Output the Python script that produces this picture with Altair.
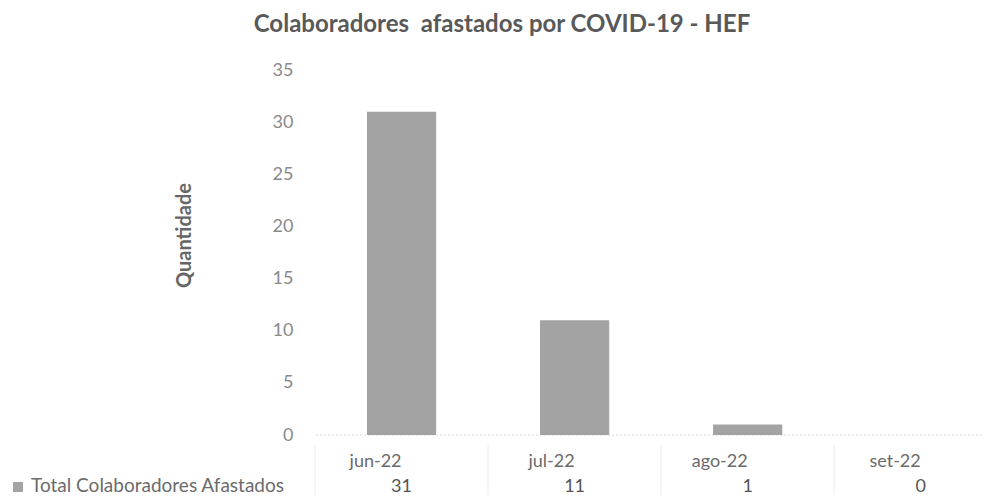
import altair as alt
import pandas as pd

# ---- data ----
months = ["jun-22", "jul-22", "ago-22", "set-22"]
totals = [31, 11, 1, 0]
y_ticks = [0, 5, 10, 15, 20, 25, 30, 35]
series_name = "Total Colaboradores Afastados"
chart_title = "Colaboradores\u00a0 afastados por COVID-19 - HEF"
y_title = "Quantidade"

df = pd.DataFrame({"month": months, "total": totals})
legend_df = pd.DataFrame({"series": [series_name]})
zero_df = pd.DataFrame({"zero": [0]})

W, H = 668, 365
FONT = "Lato"
BAR = "#a3a3a3"
TXT = "#6b6b6b"

xscale = alt.Scale(paddingInner=0.6, paddingOuter=0.23, align=0.64)

xenc = alt.X(
    "month:N",
    sort=months,
    scale=xscale,
    axis=alt.Axis(
        title=None, domain=False, ticks=False, labelAngle=0,
        labelFont=FONT, labelFontSize=18, labelColor=TXT, labelPadding=26,
    ),
)
yscale = alt.Scale(domain=[0, 35], nice=False)

bars = alt.Chart(df).mark_bar(color=BAR).encode(
    x=xenc,
    y=alt.Y(
        "total:Q",
        scale=yscale,
        axis=alt.Axis(
            values=y_ticks, domain=False, ticks=False, grid=False,
            labelFont=FONT, labelFontSize=18, labelColor="#8a8a8a", labelPadding=23,
            title=y_title, titleFont=FONT, titleFontSize=20, titleFontWeight="bold",
            titleColor="#666666", titlePadding=78, titleY=165,
        ),
    ),
)

baseline = alt.Chart(zero_df).mark_rule(color="#d9d9d9", strokeDash=[2, 2], strokeWidth=1).encode(
    y=alt.Y("zero:Q", scale=yscale), x=alt.value(0), x2=alt.value(W)
)

seps = alt.Chart(df).mark_rule(color="#ececec", strokeWidth=1, xOffset=-52).encode(
    x=alt.X("month:N", sort=months, bandPosition=0),
    y=alt.value(H + 10),
    y2=alt.value(H + 60),
)

table_vals = alt.Chart(df).mark_text(
    font=FONT, fontSize=18, color="#555555", baseline="middle"
).encode(
    x=alt.X("month:N", sort=months),
    y=alt.value(H + 52),
    text="total:Q",
)

legend_sq = alt.Chart(legend_df).mark_square(color=BAR, size=100, opacity=1).encode(
    x=alt.value(-298), y=alt.value(H + 52)
)
legend_txt = alt.Chart(legend_df).mark_text(
    font=FONT, fontSize=19, color=TXT, align="left", baseline="middle"
).encode(
    x=alt.value(-285), y=alt.value(H + 51), text="series:N"
)

chart = (
    alt.layer(baseline, seps, bars, table_vals, legend_sq, legend_txt)
    .properties(
        width=W,
        height=H,
        background="white",
        title=alt.TitleParams(
            chart_title, font=FONT, fontSize=24, fontWeight="bold",
            color="#595959", anchor="middle", dx=-148, offset=24,
        ),
        autosize=alt.AutoSizeParams(type="none"),
        padding={"left": 308, "top": 62, "right": 2, "bottom": 60},
    )
    .configure_view(strokeWidth=0)
)

chart.save("out.html", embed_options={"renderer": "svg", "actions": False})
